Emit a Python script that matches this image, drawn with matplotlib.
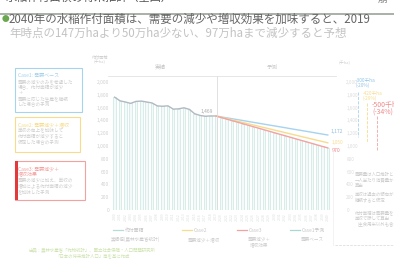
import matplotlib

matplotlib.use("Agg")
import matplotlib.pyplot as plt
from matplotlib.patches import Rectangle

plt.rcParams["font.family"] = ["Noto Sans CJK JP", "DejaVu Sans"]

W, H = 394, 264

# actual planted area of paddy rice (thousand ha), 2000-2019
years_actual = list(range(2000, 2020))
area_actual = [1763, 1706, 1688, 1666, 1697, 1702, 1688, 1673, 1627, 1621,
               1628, 1576, 1581, 1597, 1573, 1505, 1478, 1465, 1470, 1469]

# projections 2019-2040 (thousand ha)
years_proj = list(range(2019, 2041))
case_blue = [1469, 1455, 1441, 1427, 1413, 1399, 1385, 1370, 1356, 1342, 1328,
             1314, 1300, 1286, 1271, 1257, 1243, 1229, 1215, 1200, 1186, 1172]
case_yellow = [1469, 1449, 1429, 1409, 1389, 1369, 1349, 1329, 1309, 1289, 1269,
               1249, 1229, 1209, 1189, 1169, 1149, 1129, 1109, 1089, 1070, 1050]
case_red = [1469, 1445, 1421, 1397, 1374, 1350, 1326, 1302, 1279, 1255, 1231,
            1207, 1183, 1160, 1136, 1112, 1088, 1065, 1041, 1017, 993, 970]

yticks = [0, 200, 400, 600, 800, 1000, 1200, 1400, 1600, 1800, 2000]

BLUE = "#a6d3ee"
YELLOW = "#f6dc8c"
RED = "#f3a2a2"


def px(x, y):
    return x / W, 1 - y / H


fig = plt.figure(figsize=(W / 100, H / 100), dpi=100)
fig.patch.set_facecolor("white")

# header strip (cut off at the top)
fig.text(*px(6, -2), "水稲作付面積の将来推計（全国）", fontsize=8, color="#555555", va="center")
fig.text(*px(378, -1), "崩", fontsize=7, color="#888888", va="center")
fig.add_artist(plt.Line2D([0, 1], [1 - 14 / H] * 2, color="#9aa39a", lw=1.2))

fig.text(*px(2, 19), "●", fontsize=5.5, color="#6aa84f", va="center")
fig.text(*px(9, 19), "2040年の水稲作付面積は、需要の減少や増収効果を加味すると、2019",
         fontsize=8.3, color="#666666", va="center")
fig.text(*px(9, 33), "年時点の147万haより50万ha少ない、97万haまで減少すると予想",
         fontsize=8.3, color="#c3c3c3", va="center")

# main axes
l, t, r, b = 112, 76, 331, 210
ax = fig.add_axes([l / W, 1 - b / H, (r - l) / W, (b - t) / H])
bar_years = years_actual + years_proj[1:]
bar_vals = area_actual + case_red[1:]
ax.bar(bar_years, bar_vals, width=0.45, color="#f3faf9", edgecolor="#d2eae7", lw=0.6)
ax.plot(years_actual, area_actual, color="#b0bac2", lw=1.0)
ax.plot(years_proj, case_blue, color=BLUE, lw=1.0)
ax.plot(years_proj, case_yellow, color=YELLOW, lw=1.0)
ax.plot(years_proj, case_red, color=RED, lw=1.0)
ax.set_xlim(1999.5, 2040.6)
ax.set_ylim(0, 2094)
ax.set_yticks(yticks)
ax.set_yticklabels([f"{v:,}" for v in yticks], fontsize=3.5, color="#d0d0d0")
ax.set_xticks(bar_years)
ax.set_xticklabels([str(y) for y in bar_years], fontsize=2.5, color="#dddddd", rotation=90)
ax.tick_params(length=0, pad=2)
for s in ax.spines.values():
    s.set_visible(False)
ax.axvline(2019.2, color="#dcdcdc", lw=0.6)
ax.text(2018.5, 1500, "1,469", fontsize=3.5, color="#aaaaaa", ha="right", va="bottom")
ax.text(2040.5, case_blue[-1] + 15, "1,172", fontsize=3.6, color="#8fbfe0", va="bottom")
ax.text(2040.8, case_yellow[-1], "1,050", fontsize=3.4, color=YELLOW, va="center")
ax.text(2040.8, case_red[-1], "970", fontsize=3.8, color="#ee8888", va="top")

ax2 = ax.twinx()
ax2.set_ylim(ax.get_ylim())
ax2.set_yticks(yticks)
ax2.set_yticklabels([f"{v:,}" for v in yticks], fontsize=3.3, color="#dcdcdc")
ax2.tick_params(length=0, pad=11)
for s in ax2.spines.values():
    s.set_visible(False)

# header over plot
fig.add_artist(plt.Line2D([108 / W, 336 / W], [1 - 76 / H] * 2, color="#e2e2e2", lw=0.6))
fig.text(*px(160, 67), "実績", fontsize=4, color="#c8c8c8", ha="center", va="center")
fig.text(*px(272, 67), "予測", fontsize=4, color="#c8c8c8", ha="center", va="center")
fig.text(*px(100, 60), "作付面積\n(千ha)", fontsize=3, color="#d0d0d0", ha="center", va="center")
fig.text(*px(345, 63), "(千ha)", fontsize=3, color="#d0d0d0", ha="center", va="center")

# right-hand differences
for x, y0, y1, c in [(358, 92, 137, BLUE), (367, 103, 142, YELLOW), (377, 116, 150, RED)]:
    fig.add_artist(plt.Line2D([x / W] * 2, [1 - y0 / H, 1 - y1 / H], color=c, lw=0.6, ls="--"))
fig.text(*px(356, 83), "-300千ha\n(-20%)", fontsize=3.4, color="#8fc4e6", va="center", linespacing=1.0)
fig.text(*px(363, 96), "-420千ha\n(-29%)", fontsize=3.4, color=YELLOW, va="center", linespacing=1.0)
fig.text(*px(372, 109), "-500千ha\n(-34%)", fontsize=5, color="#f08a8a", va="center", linespacing=1.0)

# left case boxes
boxes = [
    (15, 68, 67, 44, BLUE, "Case1: 需要ベース",
     "需要の減少のみを考慮した\n場合、作付面積が減少\n＋\n需要に応じた生産を継続\nした場合の予測"),
    (15, 117, 65, 35, YELLOW, "Case2: 需要減少＋増収",
     "単収の向上を加味して\n作付面積が減少すると\n仮定した場合の予測"),
    (15, 161, 70, 39, RED, "Case3: 需要減少＋\n増収効果",
     "需要の減少に加え、単収の\n増加による作付面積の減少\nを加味した予測"),
]
for x, y, w, h, c, head, body in boxes:
    fig.add_artist(Rectangle((x / W, 1 - (y + h) / H), w / W, h / H, transform=fig.transFigure,
                             facecolor="white", edgecolor=c, lw=0.8))
    fig.text(*px(x + 3, y + 5), head, fontsize=3.6, color=c, va="top", linespacing=1.1)
    nh = head.count("\n") + 1
    fig.text(*px(x + 3, y + 5 + 6 * nh), body, fontsize=3.3, color="#cfcfcf", va="top", linespacing=1.15)
fig.add_artist(Rectangle((15 / W, 1 - 200 / H), 2.5 / W, 39 / H, transform=fig.transFigure,
                         facecolor="#e23a3a", edgecolor="none"))

# legend below plot
legend = [(113, "#b7dcd8", "作付面積", "実績値(農林水産省統計)"),
          (182, YELLOW, "Case2", "需要減少＋増収"),
          (237, RED, "Case3", "需要減少＋\n増収効果"),
          (290, "#a8d8d2", "Case1予測", "需要ベース")]
for x, c, name, sub in legend:
    fig.add_artist(plt.Line2D([x / W, (x + 10) / W], [1 - 230 / H] * 2, color=c, lw=0.9))
    fig.text(*px(x + 12, 230), name, fontsize=3.5, color="#c8c8c8", va="center")
    fig.text(*px(x + 22, 237), sub, fontsize=3.3, color="#cccccc", va="top", ha="center", linespacing=1.1)
fig.text(*px(92, 253), "出典：農林水産省「作物統計」、国立社会保障・人口問題研究所\n「日本の将来推計人口」等を基に作成",
         fontsize=3.2, color="#cfe3b0", va="center", ha="center", linespacing=1.15)

# right notes
fig.add_artist(plt.Line2D([333 / W] * 2, [1 - 150 / H, 1 - 245 / H], color="#eeeeee", lw=0.5))
fig.text(*px(355, 172), "需要量は人口推計と\n一人当たり消費量から\n算出", fontsize=3.2, color="#cccccc",
         va="top", linespacing=1.15)
fig.text(*px(355, 192), "単収は過去の傾向が\n継続すると仮定", fontsize=3.2, color="#cccccc",
         va="top", linespacing=1.15)
fig.text(*px(355, 210), "作付面積は需要量を\n単収で除して算出\n（主食用米以外も含む）", fontsize=3.2,
         color="#cccccc", va="top", linespacing=1.15)
fig.add_artist(plt.Line2D([335 / W, 1], [1 - 245 / H] * 2, color="#d8d8d8", lw=0.5, ls="--"))

fig.savefig("out.png", dpi=100, facecolor="white")
